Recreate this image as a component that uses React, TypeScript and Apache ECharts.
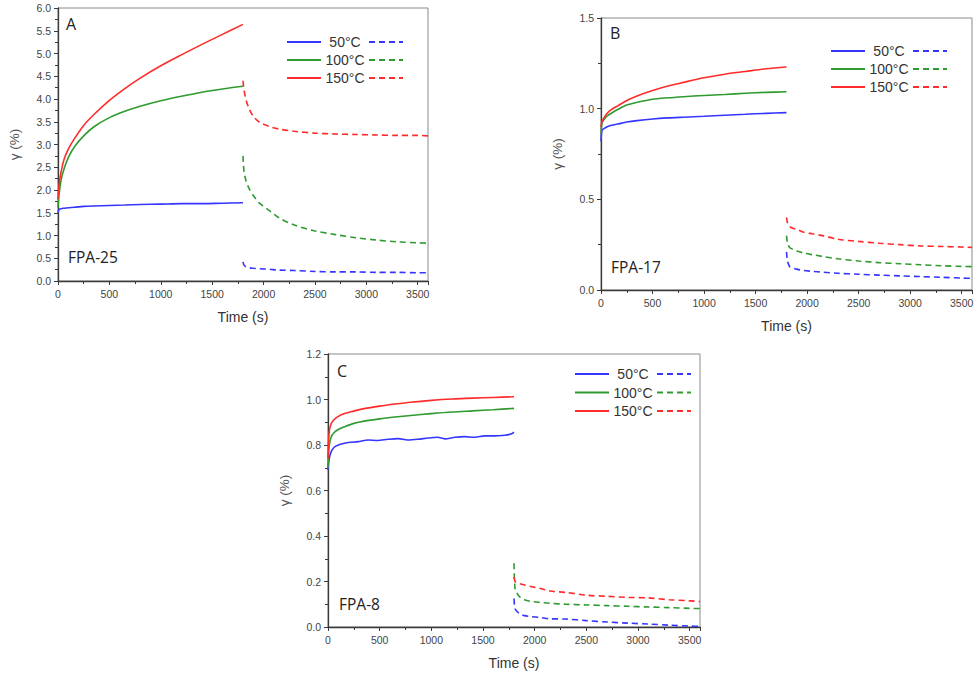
import React, { useEffect, useRef } from "react";
import * as echarts from "echarts";

// ---------- data ----------
const TIME_ON = [0, 10, 30, 60, 100, 160, 250, 350, 500, 650, 800, 1000, 1200, 1400, 1600, 1800];
const TIME_OFF = [1800, 1810, 1830, 1860, 1900, 1960, 2050, 2150, 2300, 2500, 2700, 2900, 3100, 3300, 3500, 3600];

// Panel A: FPA-25
const A_50_ON = [1.5, 1.57, 1.59, 1.6, 1.61, 1.62, 1.64, 1.65, 1.66, 1.67, 1.68, 1.69, 1.7, 1.7, 1.71, 1.72];
const A_100_ON = [1.62, 1.9, 2.22, 2.47, 2.71, 2.95, 3.19, 3.39, 3.59, 3.73, 3.84, 3.96, 4.06, 4.15, 4.22, 4.28];
const A_150_ON = [1.8, 2.1, 2.4, 2.68, 2.9, 3.13, 3.42, 3.66, 3.97, 4.23, 4.46, 4.73, 4.97, 5.2, 5.42, 5.64];
const A_50_OFF = [0.42, 0.35, 0.31, 0.29, 0.28, 0.27, 0.26, 0.24, 0.23, 0.21, 0.2, 0.2, 0.19, 0.19, 0.18, 0.18];
const A_100_OFF = [2.75, 2.4, 2.2, 2.03, 1.88, 1.71, 1.56, 1.39, 1.23, 1.1, 1.02, 0.95, 0.9, 0.86, 0.84, 0.83];
const A_150_OFF = [4.4, 4.2, 3.98, 3.78, 3.62, 3.49, 3.4, 3.34, 3.29, 3.25, 3.23, 3.22, 3.21, 3.2, 3.2, 3.19];

// Panel B: FPA-17
const B_50_ON = [0.82, 0.88, 0.89, 0.9, 0.908, 0.915, 0.926, 0.934, 0.943, 0.949, 0.953, 0.958, 0.964, 0.969, 0.974, 0.978];
const B_100_ON = [0.86, 0.92, 0.94, 0.96, 0.975, 0.995, 1.02, 1.035, 1.052, 1.06, 1.066, 1.073, 1.078, 1.085, 1.09, 1.093];
const B_150_ON = [0.9, 0.93, 0.95, 0.975, 0.995, 1.015, 1.045, 1.07, 1.1, 1.125, 1.145, 1.17, 1.19, 1.205, 1.22, 1.23];
const B_50_OFF = [0.21, 0.16, 0.13, 0.122, 0.115, 0.108, 0.103, 0.098, 0.092, 0.087, 0.082, 0.078, 0.074, 0.07, 0.066, 0.064];
const B_100_OFF = [0.3, 0.26, 0.235, 0.225, 0.215, 0.205, 0.195, 0.185, 0.172, 0.16, 0.151, 0.145, 0.139, 0.134, 0.13, 0.129];
const B_150_OFF = [0.4, 0.37, 0.35, 0.34, 0.335, 0.32, 0.31, 0.3, 0.28, 0.268, 0.258, 0.25, 0.243, 0.24, 0.237, 0.235];

// Panel C: FPA-8
const C_BLUE_TIME = [0, 10, 30, 60, 100, 160, 220, 290, 390, 480, 580, 680, 770, 870, 970, 1060, 1130, 1230, 1320, 1420, 1520, 1610, 1710, 1770, 1800];
const C_50_ON = [0.69, 0.735, 0.77, 0.79, 0.8, 0.808, 0.812, 0.815, 0.822, 0.82, 0.825, 0.828, 0.822, 0.825, 0.831, 0.834, 0.827, 0.834, 0.837, 0.834, 0.84, 0.84, 0.843, 0.848, 0.856];
const C_100_ON = [0.7, 0.79, 0.835, 0.855, 0.868, 0.88, 0.895, 0.905, 0.915, 0.923, 0.93, 0.938, 0.945, 0.95, 0.955, 0.961];
const C_150_ON = [0.74, 0.85, 0.893, 0.912, 0.926, 0.938, 0.949, 0.96, 0.971, 0.98, 0.988, 0.996, 1.002, 1.006, 1.009, 1.012];
const C_50_OFF = [0.125, 0.08, 0.068, 0.058, 0.05, 0.046, 0.042, 0.036, 0.035, 0.028, 0.022, 0.017, 0.013, 0.008, 0.004, 0.003];
const C_100_OFF = [0.28, 0.17, 0.148, 0.13, 0.12, 0.113, 0.108, 0.104, 0.1, 0.097, 0.094, 0.091, 0.088, 0.085, 0.082, 0.081];
const C_150_OFF = [0.22, 0.2, 0.195, 0.19, 0.185, 0.178, 0.17, 0.158, 0.152, 0.14, 0.135, 0.13, 0.128, 0.12, 0.115, 0.112];

const TEMPS = ["50°C", "100°C", "150°C"];
const PANEL_LETTERS = ["A", "B", "C"];
const SAMPLES = ["FPA-25", "FPA-17", "FPA-8"];
const Y_MAX = [6, 1.5, 1.2];
const Y_STEP = [0.5, 0.5, 0.2];
const X_MAX = 3600;
const X_STEP = 500;

// ---------- styling ----------
const COLORS = ["#3535ff", "#2f9a2f", "#ff2b2b"];
const GRIDS = [
  { left: 58, top: 8, width: 370, height: 273 },
  { left: 601, top: 18, width: 371, height: 272 },
  { left: 328, top: 354, width: 372, height: 273 },
];
const LEGEND_POS = [
  { x: 287, y: 42, dy: 18 },
  { x: 831, y: 51, dy: 18 },
  { x: 575, y: 374, dy: 18.5 },
];
const LETTER_POS = [
  { x: 66, y: 24 },
  { x: 610, y: 33 },
  { x: 337, y: 371 },
];
const SAMPLE_POS = [
  { x: 68, y: 257 },
  { x: 611, y: 267 },
  { x: 339, y: 604 },
];
const FONT = "'Liberation Sans', Arial, sans-serif";
const LABEL_FONT = "'Open Sans', Lato, sans-serif";

const zip = (t: number[], v: number[]) => t.map((x, i) => [x, v[i]]);

const PANELS = [
  {
    on: [zip(TIME_ON, A_50_ON), zip(TIME_ON, A_100_ON), zip(TIME_ON, A_150_ON)],
    off: [zip(TIME_OFF, A_50_OFF), zip(TIME_OFF, A_100_OFF), zip(TIME_OFF, A_150_OFF)],
  },
  {
    on: [zip(TIME_ON, B_50_ON), zip(TIME_ON, B_100_ON), zip(TIME_ON, B_150_ON)],
    off: [zip(TIME_OFF, B_50_OFF), zip(TIME_OFF, B_100_OFF), zip(TIME_OFF, B_150_OFF)],
  },
  {
    on: [zip(C_BLUE_TIME, C_50_ON), zip(TIME_ON, C_100_ON), zip(TIME_ON, C_150_ON)],
    off: [zip(TIME_OFF, C_50_OFF), zip(TIME_OFF, C_100_OFF), zip(TIME_OFF, C_150_OFF)],
  },
];

function buildOption() {
  const grid = GRIDS.map((g) => ({
    ...g,
    show: true,
    borderColor: "#8a8a8a",
    borderWidth: 1,
    backgroundColor: "transparent",
  }));

  const xAxis = GRIDS.map((_, i) => ({
    type: "value",
    gridIndex: i,
    min: 0,
    max: X_MAX,
    interval: X_STEP,
    name: "Time (s)",
    nameLocation: "middle",
    nameGap: 29,
    nameTextStyle: { fontSize: 14, color: "#333", fontFamily: FONT },
    axisLine: { show: true, lineStyle: { color: "#3a3a3a", width: 1.3 } },
    axisTick: { show: true, length: 4, lineStyle: { color: "#3a3a3a" } },
    minorTick: { show: true, splitNumber: 2, length: 3, lineStyle: { color: "#3a3a3a" } },
    splitLine: { show: false },
    axisLabel: {
      fontSize: 10.5,
      color: "#444",
      margin: 7,
      fontFamily: FONT,
      showMaxLabel: false,
      formatter: (v: number) => String(v),
    },
  }));

  const yAxis = GRIDS.map((_, i) => ({
    type: "value",
    gridIndex: i,
    min: 0,
    max: Y_MAX[i],
    interval: Y_STEP[i],
    name: "γ (%)",
    nameLocation: "middle",
    nameGap: 37,
    nameTextStyle: { fontSize: 13.5, color: "#555", fontFamily: FONT },
    axisLine: { show: true, lineStyle: { color: "#3a3a3a", width: 1.3 } },
    axisTick: { show: true, length: 4, lineStyle: { color: "#3a3a3a" } },
    minorTick: { show: true, splitNumber: 2, length: 3, lineStyle: { color: "#3a3a3a" } },
    splitLine: { show: false },
    axisLabel: {
      fontSize: 10.5,
      color: "#444",
      margin: 7,
      fontFamily: FONT,
      formatter: (v: number) => v.toFixed(1),
    },
  }));

  const series: any[] = [];
  PANELS.forEach((p, i) => {
    TEMPS.forEach((temp, k) => {
      series.push({
        type: "line",
        name: `${SAMPLES[i]} ${temp}`,
        xAxisIndex: i,
        yAxisIndex: i,
        data: p.on[k],
        symbol: "none",
        smooth: 0.3,
        lineStyle: { color: COLORS[k], width: 1.6 },
        z: 3,
      });
      series.push({
        type: "line",
        name: `${SAMPLES[i]} ${temp} recovery`,
        xAxisIndex: i,
        yAxisIndex: i,
        data: p.off[k],
        symbol: "none",
        smooth: 0.3,
        lineStyle: { color: COLORS[k], width: 1.6, type: [6, 4] },
        z: 3,
      });
    });
  });

  const graphic: any[] = [];
  LEGEND_POS.forEach((lp) => {
    TEMPS.forEach((temp, k) => {
      const y = lp.y + k * lp.dy;
      graphic.push({
        type: "line",
        shape: { x1: lp.x, y1: y, x2: lp.x + 34, y2: y },
        style: { stroke: COLORS[k], lineWidth: 1.8 },
      });
      graphic.push({
        type: "text",
        x: lp.x + 58,
        y,
        style: {
          text: temp,
          fill: "#333",
          font: `14px ${FONT}`,
          align: "center",
          verticalAlign: "middle",
        },
      });
      graphic.push({
        type: "line",
        shape: { x1: lp.x + 82, y1: y, x2: lp.x + 116, y2: y },
        style: { stroke: COLORS[k], lineWidth: 1.8, lineDash: [6, 4] },
      });
    });
  });
  PANEL_LETTERS.forEach((letter, i) => {
    graphic.push({
      type: "text",
      x: LETTER_POS[i].x,
      y: LETTER_POS[i].y,
      style: { text: letter, fill: "#222", font: `16px ${LABEL_FONT}`, verticalAlign: "middle" },
    });
    graphic.push({
      type: "text",
      x: SAMPLE_POS[i].x,
      y: SAMPLE_POS[i].y,
      style: { text: SAMPLES[i], fill: "#222", font: `15.5px ${LABEL_FONT}`, verticalAlign: "middle" },
    });
  });

  return {
    animation: false,
    backgroundColor: "#ffffff",
    grid,
    xAxis,
    yAxis,
    series,
    graphic,
  };
}

export default function App() {
  const ref = useRef<HTMLDivElement>(null);
  useEffect(() => {
    document.body.style.margin = "0";
    if (!ref.current) return;
    const chart = echarts.init(ref.current, undefined, { renderer: "svg" });
    chart.setOption(buildOption() as any);
    return () => chart.dispose();
  }, []);
  return <div ref={ref} style={{ width: 979, height: 676 }} />;
}
